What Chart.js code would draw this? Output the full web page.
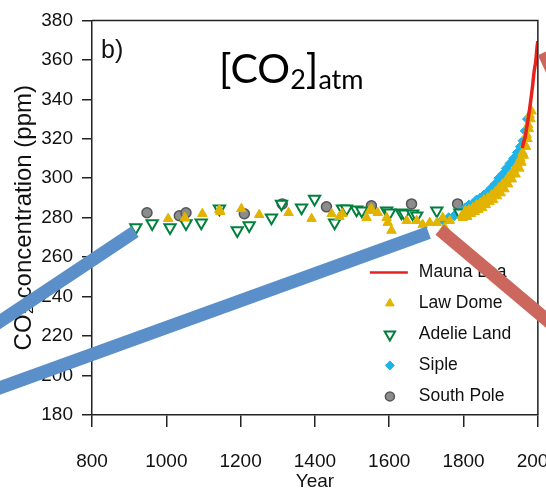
<!DOCTYPE html>
<html>
<head>
<meta charset="utf-8">
<script src="https://cdn.jsdelivr.net/npm/chart.js@4.4.1/dist/chart.umd.min.js"></script>
<style>
  html, body { margin: 0; padding: 0; background: #fff; overflow: hidden; }
  #wrap { position: relative; width: 546px; height: 492px; overflow: hidden; }
  #chart { position: absolute; left: 0; top: 0; }
  #co2 {
    position: absolute; left: 219px; top: 47px; line-height: 42px;
    font-family: Lato, "Open Sans", sans-serif; font-size: 41px; color: #000; white-space: nowrap;
  }
  #co2 sub { font-size: 27px; vertical-align: -6px; line-height: 0; }
  #panel {
    position: absolute; left: 101px; top: 37px; line-height: 25px;
    font-family: "Liberation Sans", Arial, sans-serif; font-size: 25px; color: #111;
  }
</style>
</head>
<body>
<div id="wrap">
  <canvas id="chart" width="582" height="492"></canvas>
  <div id="panel">b)</div>
  <div id="co2">[CO<sub>2</sub>]<sub>atm</sub></div>
</div>
<script>
// values (year, ppm)
const maunaLoaYears = [1958, 1962, 1966, 1970, 1974, 1978, 1982, 1986, 1990, 1994, 1998, 2000];
const maunaLoaPpm = [315.3, 318.4, 321.1, 325.7, 330.2, 335.4, 341.1, 347.2, 354.2, 358.8, 366.7, 369.5];

const lawDomeYears = [1005, 1050, 1097, 1143, 1145, 1202, 1250, 1329, 1391, 1445, 1466, 1474, 1539, 1547, 1552,
  1569, 1593, 1596, 1606, 1647, 1674, 1690, 1709, 1728, 1744, 1749, 1763, 1795, 1798,
  1800, 1805, 1810, 1815, 1820, 1825, 1830, 1835, 1840, 1845, 1850, 1855, 1860, 1865, 1870, 1875,
  1880, 1885, 1890, 1895, 1900, 1905, 1910, 1915, 1920, 1925, 1930, 1935, 1940, 1945, 1950, 1953,
  1956, 1959, 1962, 1965, 1968, 1970, 1972, 1974, 1976, 1978, 1980, 1983];
const lawDomePpm = [279.5, 280, 282, 284, 283, 284.5, 281.5, 282.5, 279.5, 282, 280.5, 282, 280, 283.5, 284.5,
  282.5, 280, 277.5, 273.5, 278.5, 278.5, 276.5, 277.5, 277.5, 280, 275, 278.5, 281, 280,
  281, 283.5, 280.5, 284, 282, 285, 283, 286.5, 284, 287.5, 285, 289, 286.5, 290, 288, 291.5,
  289, 293, 291, 295, 292.5, 297, 294.5, 299, 297, 301.5, 299.5, 304, 302, 307, 305, 310,
  308, 313, 311.5, 317, 316, 322, 320, 327, 325, 332, 330, 334];

const adelieYears = [918, 962, 1010, 1053, 1094, 1143, 1191, 1223, 1283, 1310, 1364, 1399, 1453, 1474, 1485,
  1512, 1526, 1593, 1601, 1633, 1641, 1663, 1674, 1728, 1790];
const adeliePpm = [275, 277, 275, 277, 277.5, 284.5, 273.5, 276, 280, 287, 285, 289.5, 277.5, 284.5, 284.5,
  284, 283.5, 283.5, 282.5, 282.5, 282, 282, 281, 283.5, 282.5];

const sipleYears = [1744, 1760, 1775, 1790, 1805, 1815, 1825, 1835, 1845, 1855, 1865, 1875, 1885, 1895,
  1905, 1915, 1925, 1935, 1945, 1953, 1960, 1966, 1972];
const siplePpm = [279, 280, 281, 283, 285, 286.5, 287, 289, 290, 291.5, 293, 295, 297, 300,
  302, 305, 307.5, 310, 313, 316, 319, 324, 330];

const southPoleYears = [948, 1035, 1053, 1210, 1312, 1431, 1552, 1660, 1784];
const southPolePpm = [282.5, 281, 282.5, 282, 287, 285.5, 286, 287, 287];

const xTicks = [800, 1000, 1200, 1400, 1600, 1800, 2000];
const yTicks = [180, 200, 220, 240, 260, 280, 300, 320, 340, 360, 380];

// slide annotation bars, in axis units [year, ppm]
const arrows = [
  { color: '#5b8fc9', from: [495, 220.2], to: [916, 272.9] },
  { color: '#5b8fc9', from: [495, 189.9], to: [1706, 272.4] },
  { color: '#cc675d', from: [1735.7, 273.9], to: [2113, 214.1] },
  { color: '#cc675d', from: [2015.9, 363.7], to: [2084.4, 336.3] },
];

const pts = (xs, ys) => xs.map((x, i) => ({ x: x, y: ys[i] }));

const frame = {
  id: 'frame',
  afterDatasetsDraw(chart) {
    const { ctx, chartArea: a } = chart;
    ctx.save();
    ctx.strokeStyle = '#222';
    ctx.lineWidth = 1.5;
    ctx.beginPath();
    ctx.moveTo(a.left, a.top);
    ctx.lineTo(a.right, a.top);
    ctx.lineTo(a.right, a.bottom);
    ctx.stroke();

    // legend inside the plot
    const markX = a.right - 148;
    const textX = a.right - 119;
    ctx.font = '17.5px "Liberation Sans", Arial, sans-serif';
    ctx.textBaseline = 'middle';
    ctx.textAlign = 'left';
    chart.data.datasets.forEach((ds, i) => {
      const yy = a.top + 252 + i * 31;
      if (ds.showLine) {
        ctx.strokeStyle = ds.borderColor;
        ctx.lineWidth = 2.5;
        ctx.beginPath();
        ctx.moveTo(markX - 20, yy);
        ctx.lineTo(markX + 18, yy);
        ctx.stroke();
      } else {
        ctx.fillStyle = ds.pointBackgroundColor;
        ctx.strokeStyle = ds.pointBorderColor;
        ctx.lineWidth = ds.pointBorderWidth;
        Chart.helpers.drawPoint(ctx, {
          pointStyle: ds.pointStyle, rotation: ds.pointRotation || 0,
          radius: ds.pointRadius - 0.5, borderWidth: ds.pointBorderWidth
        }, markX, yy);
      }
      ctx.fillStyle = '#111';
      ctx.fillText(ds.label, textX, yy);
    });
    ctx.restore();
  },
  afterDraw(chart) {
    const { ctx, scales: { x, y } } = chart;
    ctx.save();
    ctx.lineWidth = 13;
    ctx.lineCap = 'butt';
    arrows.forEach((a) => {
      ctx.strokeStyle = a.color;
      ctx.beginPath();
      ctx.moveTo(x.getPixelForValue(a.from[0]), y.getPixelForValue(a.from[1]));
      ctx.lineTo(x.getPixelForValue(a.to[0]), y.getPixelForValue(a.to[1]));
      ctx.stroke();
    });
    ctx.restore();
  }
};

const tickFont = { family: '"Liberation Sans", Arial, sans-serif', size: 19 };

new Chart(document.getElementById('chart'), {
  type: 'scatter',
  data: {
    datasets: [
      {
        label: 'Mauna Loa', data: pts(maunaLoaYears, maunaLoaPpm), showLine: true,
        borderColor: '#e8221c', borderWidth: 3.5, pointRadius: 0, tension: 0.2
      },
      {
        label: 'Law Dome', data: pts(lawDomeYears, lawDomePpm), pointStyle: 'triangle', pointRadius: 5.5,
        pointBackgroundColor: '#e2b400', pointBorderColor: '#e2b400', pointBorderWidth: 1
      },
      {
        label: 'Adelie Land', data: pts(adelieYears, adeliePpm), pointStyle: 'triangle', pointRotation: 180,
        pointRadius: 6.5, pointBackgroundColor: '#ffffff', pointBorderColor: '#00803c', pointBorderWidth: 2
      },
      {
        label: 'Siple', data: pts(sipleYears, siplePpm), pointStyle: 'rectRot', pointRadius: 5,
        pointBackgroundColor: '#1eb4ea', pointBorderColor: '#1eb4ea', pointBorderWidth: 1
      },
      {
        label: 'South Pole', data: pts(southPoleYears, southPolePpm), pointStyle: 'circle', pointRadius: 5,
        pointBackgroundColor: '#8c8c8c', pointBorderColor: '#555555', pointBorderWidth: 1.5
      }
    ]
  },
  options: {
    responsive: false,
    animation: false,
    layout: { padding: { top: 19, right: 32, bottom: 0, left: 0 } },
    plugins: { legend: { display: false }, tooltip: { enabled: false } },
    scales: {
      x: {
        type: 'linear', min: xTicks[0], max: xTicks[xTicks.length - 1],
        afterFit(s) { s.height = 77; },
        afterBuildTicks(s) { s.ticks = xTicks.map((v) => ({ value: v })); },
        ticks: { font: tickFont, color: '#111', padding: 23, maxRotation: 0, callback: (v) => String(v) },
        grid: { drawOnChartArea: false, tickLength: 12, color: '#222', lineWidth: 1.5 },
        border: { color: '#222', width: 1.5 },
        title: {
          display: true, text: 'Year', color: '#111', padding: { top: 0, bottom: -1 },
          font: { family: '"Liberation Sans", Arial, sans-serif', size: 19 }
        }
      },
      y: {
        min: yTicks[0], max: yTicks[yTicks.length - 1],
        afterFit(s) { s.width = 92; },
        afterBuildTicks(s) { s.ticks = yTicks.map((v) => ({ value: v })); },
        ticks: { font: tickFont, color: '#111', padding: 9 },
        grid: { drawOnChartArea: false, tickLength: 10, color: '#222', lineWidth: 1.5 },
        border: { color: '#222', width: 1.5 },
        title: {
          display: true, text: 'CO₂ concentration (ppm)', color: '#111', padding: { top: 10, bottom: 0 },
          font: { family: '"Liberation Sans", Arial, sans-serif', size: 24 }
        }
      }
    }
  },
  plugins: [frame]
});
</script>
</body>
</html>
